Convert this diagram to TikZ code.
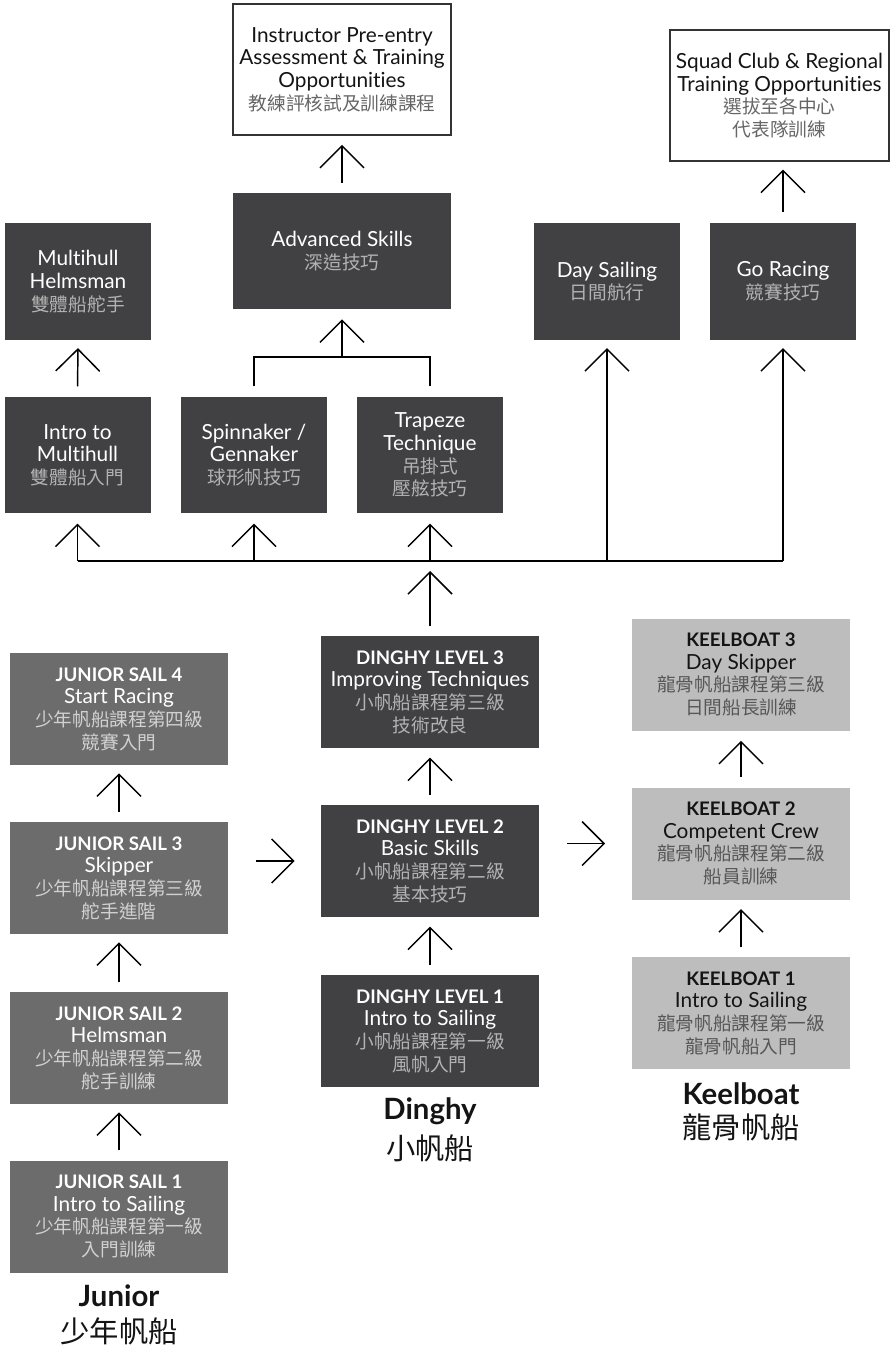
\documentclass[tikz,border=0pt]{standalone}
\usepackage{fontspec}
\setmainfont{Lato}[Ligatures=NoCommon]
\newfontfamily\cjk{Noto Sans CJK TC}
\usetikzlibrary{arrows.meta}
\definecolor{dk}{HTML}{414143}
\definecolor{jr}{HTML}{6C6C6C}
\definecolor{kb}{HTML}{BDBDBD}
\definecolor{ink}{HTML}{141414}
\newcommand\zh[1]{{\cjk\fontsize{14}{17}\selectfont\color{zhc}#1}}
\newcommand\hd[1]{{\bfseries\fontsize{14}{17}\selectfont #1}}
\begin{document}
\begin{tikzpicture}[x=0.75pt,y=-0.75pt,
  box/.style={rectangle, inner sep=0pt, align=center, font=\fontsize{15.6}{17}\selectfont,
    minimum width=163.5pt, minimum height=84pt},
  dbox/.style={box, fill=dk, text=white, execute at begin node={\colorlet{zhc}{white!70!black}}},
  jbox/.style={box, fill=jr, text=white, execute at begin node={\colorlet{zhc}{white!82!black}}},
  kbox/.style={box, fill=kb, text=ink, execute at begin node={\colorlet{zhc}{black!66}}},
  wbox/.style={box, draw=black!80, line width=0.8pt, fill=white, text=ink, execute at begin node={\colorlet{zhc}{black!60}}},
  small/.style={minimum width=109.5pt, minimum height=87.5pt},
  ln/.style={line width=1.1pt, draw=black},
  arr/.style={ln, -{Straight Barb[length=16.5pt,width=33pt]}},
  lab/.style={align=center, text=ink}
]
\path[use as bounding box, fill=white] (0,0) rectangle (894,1348);

% top row
\node[wbox, minimum height=98.25pt] (instr) at (342,69.5) {Instructor Pre-entry\\Assessment \& Training\\Opportunities\\\zh{教練評核試及訓練課程}};
\node[wbox, minimum width=164.25pt, minimum height=98.25pt] (squad) at (779.5,95.5) {Squad Club \& Regional\\Training Opportunities\\\zh{選拔至各中心}\\\zh{代表隊訓練}};
\node[dbox, minimum height=87pt] (adv) at (342,251) {Advanced Skills\\\zh{深造技巧}};
\node[dbox, small] (mh) at (78,281.5) {Multihull\\Helmsman\\\zh{雙體船舵手}};
\node[dbox, small] (day) at (607,281.5) {Day Sailing\\\zh{日間航行}};
\node[dbox, small] (go) at (783,281.5) {Go Racing\\\zh{競賽技巧}};
% second row
\node[dbox, small] (imh) at (77.5,455) {Intro to\\Multihull\\\zh{雙體船入門}};
\node[dbox, small] (spin) at (254,455) {Spinnaker /\\Gennaker\\\zh{球形帆技巧}};
\node[dbox, small] (trap) at (430,455) {Trapeze\\Technique\\\zh{吊掛式}\\\zh{壓舷技巧}};

% dinghy
\node[dbox] (dl3) at (430,692) {\hd{DINGHY LEVEL 3}\\Improving Techniques\\\zh{小帆船課程第三級}\\\zh{技術改良}};
\node[dbox] (dl2) at (430,861) {\hd{DINGHY LEVEL 2}\\Basic Skills\\\zh{小帆船課程第二級}\\\zh{基本技巧}};
\node[dbox] (dl1) at (430,1031) {\hd{DINGHY LEVEL 1}\\Intro to Sailing\\\zh{小帆船課程第一級}\\\zh{風帆入門}};
% junior
\node[jbox] (js4) at (119,709) {\hd{JUNIOR SAIL 4}\\Start Racing\\\zh{少年帆船課程第四級}\\\zh{競賽入門}};
\node[jbox] (js3) at (119,878) {\hd{JUNIOR SAIL 3}\\Skipper\\\zh{少年帆船課程第三級}\\\zh{舵手進階}};
\node[jbox] (js2) at (119,1048) {\hd{JUNIOR SAIL 2}\\Helmsman\\\zh{少年帆船課程第二級}\\\zh{舵手訓練}};
\node[jbox] (js1) at (119,1216.5) {\hd{JUNIOR SAIL 1}\\Intro to Sailing\\\zh{少年帆船課程第一級}\\\zh{入門訓練}};
% keelboat
\node[kbox] (kb3) at (741,674.5) {\hd{KEELBOAT 3}\\Day Skipper\\\zh{龍骨帆船課程第三級}\\\zh{日間船長訓練}};
\node[kbox] (kb2) at (741,843.5) {\hd{KEELBOAT 2}\\Competent Crew\\\zh{龍骨帆船課程第二級}\\\zh{船員訓練}};
\node[kbox] (kb1) at (741,1013) {\hd{KEELBOAT 1}\\Intro to Sailing\\\zh{龍骨帆船課程第一級}\\\zh{龍骨帆船入門}};

% labels
\node[lab] (ljr) at (119,1315) {{\bfseries\fontsize{22}{24}\selectfont Junior}\\[7pt]{\cjk\fontsize{22}{24}\selectfont 少年帆船}};
\node[lab] (ldg) at (430,1130) {{\bfseries\fontsize{22}{24}\selectfont Dinghy}\\[7pt]{\cjk\fontsize{22}{24}\selectfont 小帆船}};
\node[lab] (lkb) at (741,1112) {{\bfseries\fontsize{22}{24}\selectfont Keelboat}\\[6pt]{\cjk\fontsize{22}{24}\selectfont 龍骨帆船}};

% connectors
\coordinate (bus) at (430,561);
\coordinate (brk) at (342,357);
\draw[arr, shorten <=7.5pt, shorten >=7pt] (adv.north) -- (instr.south);
\draw[arr, shorten <=8pt, shorten >=6pt] (go.north) -- (go.north |- squad.south);
\draw[arr, shorten <=7.5pt, shorten >=6pt] (imh.north) -- (mh.south);
\draw[ln] ([yshift=7.5pt]spin.north) -- (spin.north |- brk) -- (trap.north |- brk) -- ([yshift=7.5pt]trap.north);
\draw[arr, shorten >=7.5pt] (brk) -- (adv.south);
\draw[ln] (imh.south |- bus) -- (go.south |- bus);
\draw[arr, shorten >=7.5pt] (imh.south |- bus) -- (imh.south);
\draw[arr, shorten >=7.5pt] (spin.south |- bus) -- (spin.south);
\draw[arr, shorten >=7.5pt] (trap.south |- bus) -- (trap.south);
\draw[arr, shorten >=6pt] (day.south |- bus) -- (day.south);
\draw[arr, shorten >=6pt] (go.south |- bus) -- (go.south);
\draw[arr, shorten <=7.5pt, shorten >=7.5pt] (dl3.north) -- (bus);
\draw[arr, shorten <=7.5pt, shorten >=7pt] (dl2.north) -- (dl3.south);
\draw[arr, shorten <=7.5pt, shorten >=7pt] (dl1.north) -- (dl2.south);
\draw[arr, shorten <=7.5pt, shorten >=6pt] (js3.north) -- (js4.south);
\draw[arr, shorten <=7.5pt, shorten >=6pt] (js2.north) -- (js3.south);
\draw[arr, shorten <=7.5pt, shorten >=6pt] (js1.north) -- (js2.south);
\draw[arr, shorten <=7.5pt, shorten >=7.5pt] (kb2.north) -- (kb3.south);
\draw[arr, shorten <=7pt, shorten >=7pt] (kb1.north) -- (kb2.south);
\draw[arr, shorten <=21pt, shorten >=19.5pt] (js3.east |- dl2.west) -- (dl2.west);
\draw[arr, shorten <=21pt, shorten >=20pt] (dl2.east |- kb2.west) -- (kb2.west);
\end{tikzpicture}
\end{document}
